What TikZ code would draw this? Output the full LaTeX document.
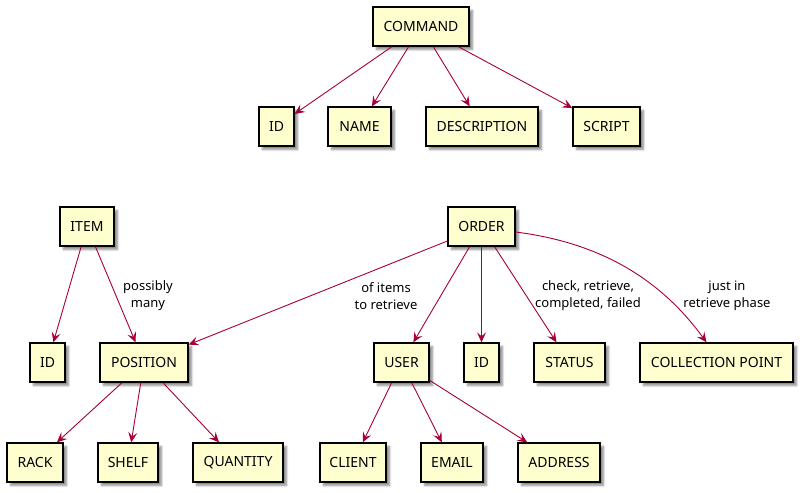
\documentclass[tikz,border=0pt]{standalone}
\usepackage{fontspec}
\setmainfont{Noto Sans}
\usetikzlibrary{arrows.meta,shadows.blur,calc}
\definecolor{boxfill}{HTML}{FEFECE}
\definecolor{edgecol}{HTML}{A80036}
\begin{document}
\begin{tikzpicture}[x=1pt,y=-1pt,
  ent/.style={draw=black,line width=1.3pt,fill=boxfill,minimum height=39pt,inner sep=0pt,
    font=\fontsize{14}{16}\selectfont,
    blur shadow={shadow xshift=3.5pt,shadow yshift=-3.5pt,shadow blur steps=6,shadow opacity=45,shadow blur radius=2pt}},
  edge/.style={draw=edgecol,line width=0.9pt,-{Stealth[length=10pt,width=9pt,inset=4pt]}},
  lbl/.style={font=\fontsize{13}{17}\selectfont,align=center,inner sep=0pt}]
\useasboundingbox (0,0) rectangle (804,493);
% top
\node[ent,minimum width=96pt] (command) at (421,26.5) {COMMAND};
\node[ent,minimum width=35pt] (cid) at (276.5,126.5) {ID};
\node[ent,minimum width=63pt] (cname) at (359.5,126.5) {NAME};
\node[ent,minimum width=112pt] (cdesc) at (482,126.5) {DESCRIPTION};
\node[ent,minimum width=67pt] (cscript) at (606.5,126.5) {SCRIPT};
% middle
\node[ent,minimum width=54pt] (item) at (87,226.5) {ITEM};
\node[ent,minimum width=67pt] (order) at (481.5,226.5) {ORDER};
\node[ent,minimum width=35pt] (iid) at (47.5,362.5) {ID};
\node[ent,minimum width=88pt] (position) at (144,362.5) {POSITION};
\node[ent,minimum width=55pt] (user) at (401.5,362.5) {USER};
\node[ent,minimum width=35pt] (oid) at (481.5,362.5) {ID};
\node[ent,minimum width=71pt] (status) at (569.5,362.5) {STATUS};
\node[ent,minimum width=153pt] (cp) at (716.5,362.5) {COLLECTION POINT};
% bottom
\node[ent,minimum width=56pt] (rack) at (35,462.5) {RACK};
\node[ent,minimum width=60pt] (shelf) at (128,462.5) {SHELF};
\node[ent,minimum width=90pt] (quantity) at (238,462.5) {QUANTITY};
\node[ent,minimum width=66pt] (client) at (353,462.5) {CLIENT};
\node[ent,minimum width=62pt] (email) at (452,462.5) {EMAIL};
\node[ent,minimum width=82pt] (address) at (559,462.5) {ADDRESS};
% labels
\node[lbl] (l1) at (148,296) {possibly\\many};
\node[lbl] (l2) at (386,296) {of items\\to retrieve};
\node[lbl] (l3) at (588,296) {check, retrieve,\\completed, failed};
\node[lbl] (l4) at (727,296) {just in\\retrieve phase};
% edges
\draw[edge] (command) -- (cid);
\draw[edge] (command) -- (cname);
\draw[edge] (command) -- (cdesc);
\draw[edge] (command) -- (cscript);
\draw[edge] (item) -- (iid);
\draw[edge] (item) -- (position);
\draw[edge] (position) -- (rack);
\draw[edge] (position) -- (shelf);
\draw[edge] (position) -- (quantity);
\draw[edge] (order.west |- 0,241) -- (position);
\draw[edge] (order) -- (user);
\draw[edge] (order) -- (oid);
\draw[edge] (order) -- (status);
\draw[edge] ($(order.east)+(0,5.5)$) .. controls +(95,12) and +(-40,-55) .. ($(cp.north)+(-10,0)$);
\draw[edge] (user) -- (client);
\draw[edge] (user) -- (email);
\draw[edge] (user) -- (address);
\end{tikzpicture}
\end{document}
